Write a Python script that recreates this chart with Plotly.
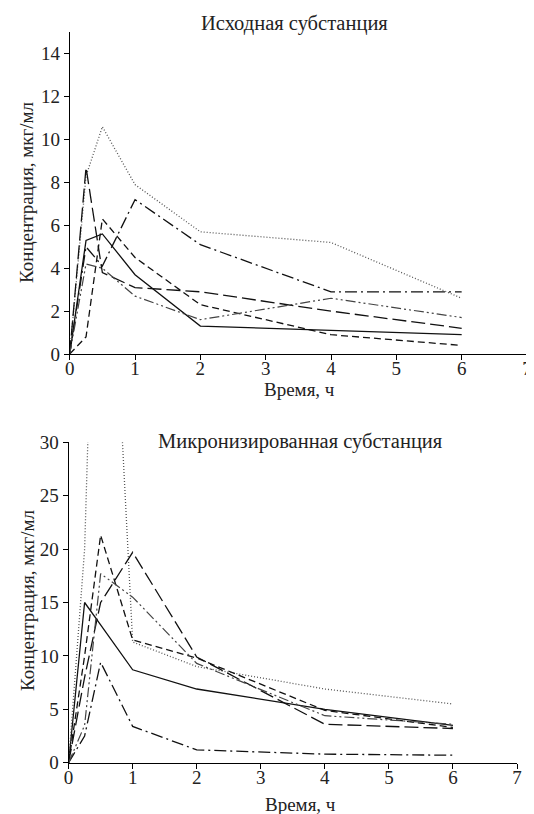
import plotly.graph_objects as go

# Time points, h
time_h = [0, 0.25, 0.5, 1, 2, 4, 6]

# Top chart: original substance (µg/ml)
orig_solid = [0, 5.3, 5.6, 3.7, 1.3, 1.1, 0.9]
orig_dotted = [0, 8.3, 10.6, 7.9, 5.7, 5.2, 2.6]
orig_longdash = [0, 8.7, 3.8, 3.1, 2.9, 2.0, 1.2]
orig_dash = [0, 0.8, 6.3, 4.5, 2.3, 0.9, 0.4]
orig_dashdot = [0, 5.0, 4.1, 7.2, 5.1, 2.9, 2.9]
orig_dashdotdot = [0, 4.2, 4.0, 2.7, 1.6, 2.6, 1.7]

# Bottom chart: micronized substance (µg/ml)
micro_solid = [0, 15.0, 12.9, 8.7, 6.9, 5.0, 3.5]
micro_dotted = [0, 20.0, 70.0, 11.3, 9.0, 6.9, 5.5]
micro_longdash = [0, 8.0, 15.0, 19.7, 9.9, 3.6, 3.2]
micro_dash = [0, 10.0, 21.3, 11.5, 9.8, 4.9, 3.3]
micro_dashdot = [0, 2.5, 9.4, 3.4, 1.2, 0.8, 0.7]
micro_dashdotdot = [0, 3.5, 17.7, 15.5, 9.3, 4.4, 3.6]

title_top = "Исходная субстанция"
title_bottom = "Микронизированная субстанция"
x_title = "Время, ч"
y_title = "Концентрация, мкг/мл"
x_ticks = [0, 1, 2, 3, 4, 5, 6, 7]
y_ticks_top = [0, 2, 4, 6, 8, 10, 12, 14]
y_ticks_bottom = [0, 5, 10, 15, 20, 25, 30]

FONT = "Liberation Serif"
OFF = 8  # page body margin
W, H = 534 - OFF, 814 - OFF

styles = [
    ("solid", "#111111", 1.3),
    ("1px,2px", "#555555", 1.3),
    ("14px,5px", "#111111", 1.3),
    ("7px,4px", "#111111", 1.3),
    ("12px,4px,2px,4px", "#111111", 1.3),
    ("10px,3px,2px,3px,2px,3px", "#444444", 1.2),
]

top_series = [orig_solid, orig_dotted, orig_longdash, orig_dash, orig_dashdot, orig_dashdotdot]
bot_series = [micro_solid, micro_dotted, micro_longdash, micro_dash, micro_dashdot, micro_dashdotdot]

fig = go.Figure()
for ys, (dash, col, w) in zip(top_series, styles):
    fig.add_trace(go.Scatter(x=time_h, y=ys, mode="lines", xaxis="x", yaxis="y",
                             line=dict(dash=dash, color=col, width=w), showlegend=False))
for ys, (dash, col, w) in zip(bot_series, styles):
    fig.add_trace(go.Scatter(x=time_h, y=ys, mode="lines", xaxis="x2", yaxis="y2",
                             line=dict(dash=dash, color=col, width=w), showlegend=False))

def px_x(p):
    return (p - OFF) / W

def px_y(p):
    return 1 - (p - OFF) / H

axis_common = dict(showline=True, linecolor="black", linewidth=1, ticks="outside",
                   ticklen=5, tickcolor="black", showgrid=False, zeroline=False,
                   automargin=False, ticklabeloverflow="allow",
                   tickfont=dict(family=FONT, size=19, color="#222"), fixedrange=True)

fig.update_layout(
    width=W, height=H, margin=dict(l=0, r=0, t=0, b=0, autoexpand=False),
    paper_bgcolor="white", plot_bgcolor="white",
    font=dict(family=FONT),
    xaxis=dict(domain=[px_x(69.7), px_x(527)], range=[0, 7], tickvals=x_ticks,
               anchor="y", ticklabelstandoff=-8, **axis_common),
    yaxis=dict(domain=[px_y(354), px_y(32.4)], range=[0, 15], tickvals=y_ticks_top,
               anchor="x", **axis_common),
    xaxis2=dict(domain=[px_x(68.6), px_x(517)], range=[0, 7], tickvals=x_ticks,
                anchor="y2", ticklabelstandoff=-8, **axis_common),
    yaxis2=dict(domain=[px_y(762.7), px_y(442.3)], range=[0, 30], tickvals=y_ticks_bottom,
                anchor="x2", **axis_common),
)

title_font = dict(family=FONT, size=20.5, color="#222")
ann_font = dict(family=FONT, size=19, color="#222")
annotations = [
    dict(text=title_top, x=px_x(294), y=px_y(23), xref="paper", yref="paper",
         showarrow=False, font=title_font, xanchor="center", yanchor="middle"),
    dict(text=title_bottom, x=px_x(300), y=px_y(441), xref="paper", yref="paper",
         showarrow=False, font=title_font, xanchor="center", yanchor="middle"),
    dict(text=x_title, x=px_x(299), y=px_y(389), xref="paper", yref="paper",
         showarrow=False, font=ann_font, xanchor="center", yanchor="middle"),
    dict(text=x_title, x=px_x(300), y=px_y(804), xref="paper", yref="paper",
         showarrow=False, font=ann_font, xanchor="center", yanchor="middle"),
    dict(text=y_title, x=px_x(27), y=px_y(192), xref="paper", yref="paper",
         showarrow=False, font=ann_font, textangle=-90, xanchor="center", yanchor="middle"),
    dict(text=y_title, x=px_x(27), y=px_y(600), xref="paper", yref="paper",
         showarrow=False, font=ann_font, textangle=-90, xanchor="center", yanchor="middle"),
]
fig.update_layout(annotations=annotations)

fig.write_html("out.html")
